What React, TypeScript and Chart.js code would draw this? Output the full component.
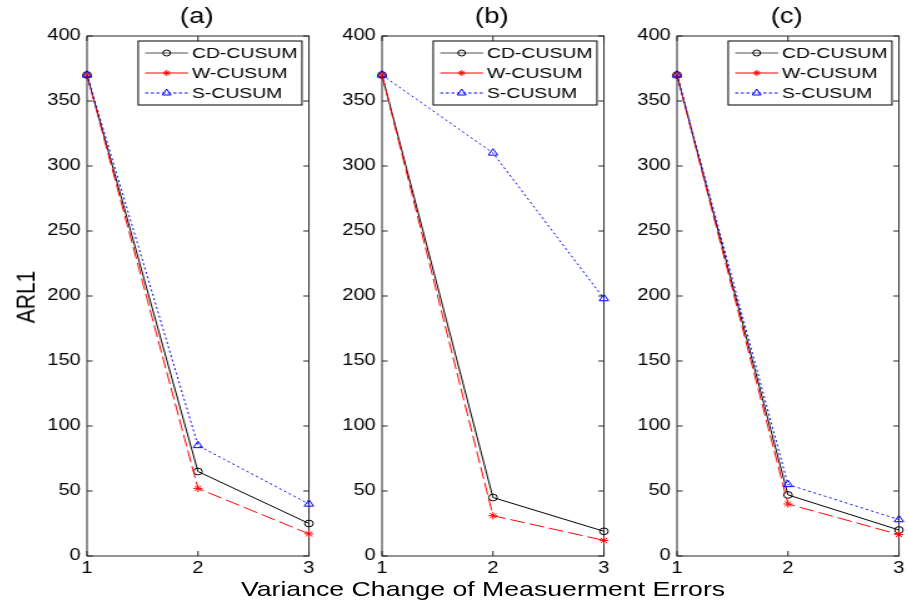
import React, { useEffect, useRef } from "react";
import { Chart, registerables } from "chart.js";

Chart.register(...registerables);

const xValues = [1, 2, 3];
const xTicks = [1, 2, 3];
const yTicks = [0, 50, 100, 150, 200, 250, 300, 350, 400];
const seriesLabels = ["CD-CUSUM", "W-CUSUM", "S-CUSUM"];
const panelTitles = ["(a)", "(b)", "(c)"];

const cdA = [370, 65, 25];
const wA = [370, 52, 17];
const sA = [370, 85, 40];

const cdB = [370, 45, 19];
const wB = [370, 31, 12];
const sB = [370, 310, 198];

const cdC = [370, 47, 20];
const wC = [370, 40, 16.5];
const sC = [370, 55, 28];

const xAxisLabel = "Variance Change of Measuerment Errors";
const yAxisLabel = "ARL1";

const S = 1.25; // horizontal stretch of the figure
const FONT = '"Liberation Sans", Arial, Helvetica, sans-serif';
const YW = 40; // logical y-axis width
const PLOT_W = 180; // logical plot width
const RP = 5;
const CW = YW + PLOT_W + RP;
const CH = 605;
const XH = 26;
const PAD_TOP = 36;
const PAD_BOTTOM = CH - 556 - XH;

const drawMarker = (ctx: CanvasRenderingContext2D, style: string, x: number, y: number, r: number, color: string) => {
  ctx.save();
  ctx.strokeStyle = color;
  ctx.lineWidth = 1;
  ctx.setLineDash([]);
  ctx.beginPath();
  if (style === "circle") {
    ctx.arc(x, y, r, 0, Math.PI * 2);
  } else if (style === "triangle") {
    for (let i = 0; i < 3; i++) {
      const a = (i * 2 * Math.PI) / 3;
      const px = x + Math.sin(a) * r;
      const py = y - Math.cos(a) * r;
      if (i === 0) ctx.moveTo(px, py);
      else ctx.lineTo(px, py);
    }
    ctx.closePath();
  } else {
    for (let i = 0; i < 4; i++) {
      const a = (i * Math.PI) / 4;
      ctx.moveTo(x - Math.cos(a) * r, y - Math.sin(a) * r);
      ctx.lineTo(x + Math.cos(a) * r, y + Math.sin(a) * r);
    }
  }
  ctx.stroke();
  ctx.restore();
};

const framePlugin = {
  id: "frame",
  beforeDatasetsDraw(chart: any) {
    const { ctx, chartArea } = chart;
    const { left, right, top, bottom } = chartArea;
    const xs = chart.scales.x;
    const ys = chart.scales.y;
    ctx.save();
    ctx.strokeStyle = "#262626";
    ctx.lineWidth = 1;
    ctx.strokeRect(left, top, right - left, bottom - top);
    ctx.beginPath();
    const tl = 5;
    xs.ticks.forEach((t: any) => {
      const px = xs.getPixelForValue(t.value);
      ctx.moveTo(px, bottom);
      ctx.lineTo(px, bottom - tl);
      ctx.moveTo(px, top);
      ctx.lineTo(px, top + tl);
    });
    ys.ticks.forEach((t: any) => {
      const py = ys.getPixelForValue(t.value);
      ctx.moveTo(left, py);
      ctx.lineTo(left + 4.5, py);
      ctx.moveTo(right, py);
      ctx.lineTo(right - 4.5, py);
    });
    ctx.stroke();
    ctx.restore();
  },
  afterDraw(chart: any) {
    const { ctx, chartArea } = chart;
    const title = chart.options.plugins.panelTitle?.text || "";
    ctx.save();
    ctx.fillStyle = "#000";
    ctx.font = `22px ${FONT}`;
    ctx.textAlign = "center";
    ctx.textBaseline = "middle";
    ctx.fillText(title, (chartArea.left + chartArea.right) / 2 - 1, 17);

    // legend
    const boxW = 131;
    const boxH = 64;
    const bx = chartArea.right - 5.6 - boxW;
    const by = chartArea.top + 5;
    ctx.fillStyle = "#fff";
    ctx.fillRect(bx, by, boxW, boxH);
    ctx.strokeStyle = "#000";
    ctx.lineWidth = 1;
    ctx.strokeRect(bx, by, boxW, boxH);
    const order = [0, 1, 2];
    order.forEach((di, i) => {
      const ds = chart.data.datasets[di];
      const y = by + 12 + i * 20;
      ctx.save();
      ctx.strokeStyle = ds.legendLineColor;
      ctx.lineWidth = 1;
      ctx.setLineDash(ds.legendDash || []);
      ctx.beginPath();
      ctx.moveTo(bx + 5.6, y);
      ctx.lineTo(bx + 40, y);
      ctx.stroke();
      ctx.restore();
      drawMarker(ctx, ds.pointStyle, bx + 22.8, y, ds.legendMarkerR, ds.borderColor);
      ctx.fillStyle = "#000";
      ctx.font = `15.5px ${FONT}`;
      ctx.textAlign = "left";
      ctx.textBaseline = "middle";
      ctx.fillText(ds.label, bx + 43, y + 1);
    });
    ctx.restore();
  },
};

function Panel({ title, cd, w, s, left }: { title: string; cd: number[]; w: number[]; s: number[]; left: number }) {
  const ref = useRef<HTMLCanvasElement | null>(null);
  useEffect(() => {
    if (!ref.current) return;
    const toPts = (arr: number[]) => xValues.map((x, i) => ({ x, y: arr[i] }));
    const chart = new Chart(ref.current, {
      type: "line",
      data: {
        datasets: [
          {
            label: seriesLabels[0],
            data: toPts(cd),
            borderColor: "#000000",
            borderWidth: 1,
            pointStyle: "circle",
            pointRadius: 3.4,
            pointBorderColor: "#000000",
            pointBackgroundColor: "rgba(0,0,0,0)",
            pointBorderWidth: 1,
            fill: false,
            tension: 0,
            clip: false,
            order: 2,
            legendLineColor: "#555555",
            legendDash: [],
            legendMarkerR: 3,
          } as any,
          {
            label: seriesLabels[1],
            data: toPts(w),
            borderColor: "#ff0000",
            borderWidth: 1,
            borderDash: [12, 4],
            pointStyle: "star",
            pointRadius: 3.6,
            pointBorderColor: "#ff0000",
            pointBackgroundColor: "rgba(0,0,0,0)",
            pointBorderWidth: 1,
            fill: false,
            tension: 0,
            clip: false,
            order: 1,
            legendLineColor: "#ff0000",
            legendDash: [],
            legendMarkerR: 3,
          } as any,
          {
            label: seriesLabels[2],
            data: toPts(s),
            borderColor: "#0000ff",
            borderWidth: 1,
            borderDash: [2, 2.5],
            pointStyle: "triangle",
            pointRadius: 4.3,
            pointBorderColor: "#0000ff",
            pointBackgroundColor: "rgba(0,0,0,0)",
            pointBorderWidth: 1,
            fill: false,
            tension: 0,
            clip: false,
            order: 0,
            legendLineColor: "#0000ff",
            legendDash: [2.5, 2],
            legendMarkerR: 4,
          } as any,
        ],
      },
      options: {
        animation: false,
        responsive: false,
        maintainAspectRatio: false,
        layout: { padding: { top: PAD_TOP, bottom: PAD_BOTTOM, left: 0, right: RP } },
        plugins: {
          legend: { display: false },
          tooltip: { enabled: false },
          title: { display: false },
          panelTitle: { text: title },
        } as any,
        scales: {
          x: {
            type: "linear",
            min: 1,
            max: 3,
            afterFit: (sc: any) => {
              sc.height = XH;
            },
            afterBuildTicks: (sc: any) => {
              sc.ticks = xTicks.map((v) => ({ value: v }));
            },
            ticks: {
              stepSize: 1,
              autoSkip: false,
              maxRotation: 0,
              padding: 3,
              color: "#000",
              font: { family: FONT, size: 16 },
            },
            grid: { display: false, drawTicks: false },
            border: { display: false },
          },
          y: {
            type: "linear",
            min: 0,
            max: 400,
            afterFit: (sc: any) => {
              sc.width = YW;
            },
            afterBuildTicks: (sc: any) => {
              sc.ticks = yTicks.map((v) => ({ value: v }));
            },
            ticks: {
              stepSize: 50,
              autoSkip: false,
              padding: 5,
              color: "#000",
              font: { family: FONT, size: 16 },
            },
            grid: { display: false, drawTicks: false },
            border: { display: false },
          },
        },
      } as any,
      plugins: [framePlugin],
    });
    return () => chart.destroy();
  }, [title, cd, w, s]);

  return (
    <div
      style={{
        position: "absolute",
        left,
        top: 0,
        width: CW,
        height: CH,
        transform: `scaleX(${S})`,
        transformOrigin: "0 0",
      }}
    >
      <canvas ref={ref} width={CW} height={CH} style={{ width: CW, height: CH, display: "block" }} />
    </div>
  );
}

export default function App() {
  return (
    <div
      style={{
        position: "absolute",
        left: 0,
        top: 0,
        width: 908,
        height: 605,
        overflow: "hidden",
        background: "#fff",
        fontFamily: FONT,
      }}
    >
      <Panel title={panelTitles[0]} cd={cdA} w={wA} s={sA} left={87 - YW * S} />
      <Panel title={panelTitles[1]} cd={cdB} w={wB} s={sB} left={382 - YW * S} />
      <Panel title={panelTitles[2]} cd={cdC} w={wC} s={sC} left={677 - YW * S} />
      <div
        style={{
          position: "absolute",
          left: 25,
          top: 297,
          fontSize: 21,
          lineHeight: 1,
          whiteSpace: "nowrap",
          color: "#000",
          transform: `translate(-50%, -50%) scaleX(${S}) rotate(-90deg)`,
        }}
      >
        {yAxisLabel}
      </div>
      <div
        style={{
          position: "absolute",
          left: 483,
          top: 588,
          fontSize: 21,
          lineHeight: 1,
          whiteSpace: "nowrap",
          color: "#000",
          transform: `translate(-50%, -50%) scaleX(1.27)`,
        }}
      >
        {xAxisLabel}
      </div>
    </div>
  );
}
